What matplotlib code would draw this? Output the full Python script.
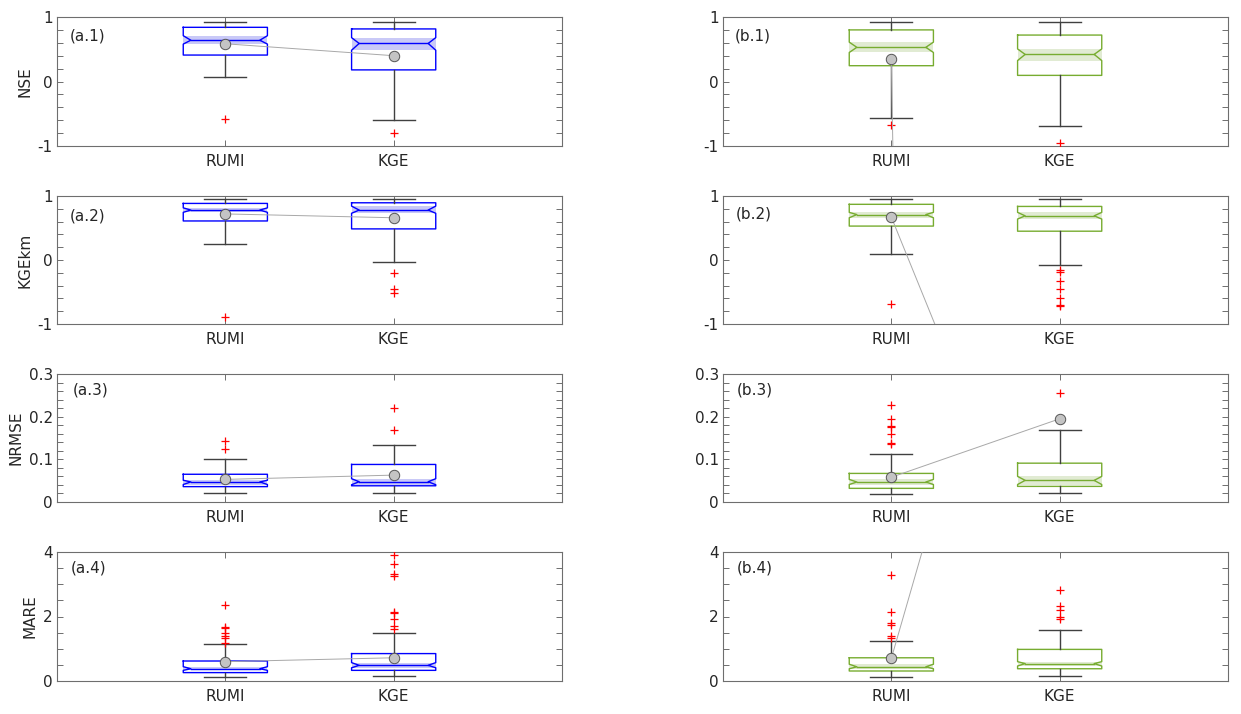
import numpy as np
import matplotlib
matplotlib.use('Agg')
import matplotlib.pyplot as plt
from matplotlib.ticker import MultipleLocator

methods = ['RUMI', 'KGE']
metrics = ['NSE', 'KGEkm', 'NRMSE', 'MARE']
labels_a = ['(a.1)', '(a.2)', '(a.3)', '(a.4)']
labels_b = ['(b.1)', '(b.2)', '(b.3)', '(b.4)']

# column a  [metric][method]
a_q1 = [[0.41, 0.18], [0.61, 0.486], [0.036, 0.038], [0.26, 0.33]]
a_q3 = [[0.84, 0.815], [0.884, 0.894], [0.065, 0.088], [0.62, 0.85]]
a_med = [[0.64, 0.59], [0.78, 0.78], [0.047, 0.0475], [0.38, 0.486]]
a_nlo = [[0.58, 0.485], [0.745, 0.73], [0.041, 0.0405], [0.33, 0.41]]
a_nhi = [[0.71, 0.68], [0.815, 0.842], [0.051, 0.0546], [0.444, 0.57]]
a_wlo = [[0.07, -0.60], [0.253, -0.03], [0.022, 0.022], [0.134, 0.155]]
a_whi = [[0.93, 0.92], [0.946, 0.946], [0.101, 0.133], [1.15, 1.49]]
a_mean = [[0.585, 0.40], [0.72, 0.66], [0.053, 0.063], [0.60, 0.72]]
a_fliers = [
    [[-0.585], [-0.80]],
    [[-0.89], [-0.207, -0.46, -0.51]],
    [[0.143, 0.125], [0.22, 0.169]],
    [[2.37, 1.68, 1.64, 1.48, 1.40, 1.33, 1.19],
     [3.91, 3.62, 3.31, 3.26, 2.15, 2.10, 1.91, 1.71, 1.62]],
]

# column b
b_q1 = [[0.245, 0.095], [0.53, 0.45], [0.032, 0.0366], [0.31, 0.38]]
b_q3 = [[0.80, 0.72], [0.87, 0.837], [0.067, 0.091], [0.72, 0.98]]
b_med = [[0.53, 0.42], [0.71, 0.69], [0.0468, 0.0507], [0.44, 0.54]]
b_nlo = [[0.45, 0.325], [0.66, 0.64], [0.041, 0.041], [0.38, 0.465]]
b_nhi = [[0.61, 0.505], [0.744, 0.744], [0.053, 0.060], [0.52, 0.60]]
b_wlo = [[-0.56, -0.695], [0.088, -0.078], [0.0195, 0.021], [0.134, 0.165]]
b_whi = [[0.93, 0.925], [0.946, 0.95], [0.112, 0.1676], [1.25, 1.59]]
b_mean = [[0.35, -150.0], [0.67, -5.8], [0.058, 0.195], [0.70, 18.8]]
b_fliers = [
    [[-0.68], [-0.95]],
    [[-0.69], [-0.15, -0.18, -0.33, -0.45, -0.60, -0.70, -0.72]],
    [[0.227, 0.195, 0.178, 0.175, 0.159, 0.138, 0.135], [0.2557]],
    [[3.28, 2.15, 1.79, 1.73, 1.40, 1.34], [2.82, 2.33, 2.20, 1.98, 1.91]],
]

ylims = [(-1, 1), (-1, 1), (0, 0.3), (0, 4)]
yminor = [0.2, 0.2, 0.02, 0.5]
ytick_fmt = [['-1', '0', '1'], ['-1', '0', '1'], ['0', '0.1', '0.2', '0.3'], ['0', '2', '4']]

plt.rcParams['font.family'] = 'DejaVu Sans'
plt.rcParams['font.size'] = 11

fig = plt.figure(figsize=(12.41, 7.14), dpi=100)
W, H = 1241, 714
col_x = [57, 723]
row_top = [17, 196, 374, 552]
row_bot = [146, 324, 502, 681]
lab_pos_a = [(0.026, 0.853), (0.026, 0.84), (0.032, 0.875), (0.028, 0.876)]
lab_pos_b = [(0.024, 0.853), (0.026, 0.86), (0.028, 0.875), (0.028, 0.876)]

spine_col = '#6e6e6e'
whisk_col = '#404040'


def draw_box(ax, x, q1, med, q3, nlo, nhi, wlo, whi, color, fill):
    hw = 0.25
    nw = 0.205
    cw = 0.125
    ax.fill_between([x - hw, x + hw], nlo, nhi, color=fill, lw=0, zorder=1)
    xs = [x - hw, x + hw, x + hw, x + nw, x + hw, x + hw, x - hw, x - hw, x - nw, x - hw, x - hw]
    ys = [q3, q3, nhi, med, nlo, q1, q1, nlo, med, nhi, q3]
    ax.plot(xs, ys, color=color, lw=1.0, zorder=2)
    ax.plot([x - nw, x + nw], [med, med], color=color, lw=1.0, zorder=2)
    ax.plot([x, x], [q3, whi], color=whisk_col, lw=1.0, zorder=2)
    ax.plot([x, x], [q1, wlo], color=whisk_col, lw=1.0, zorder=2)
    ax.plot([x - cw, x + cw], [whi, whi], color=whisk_col, lw=1.0, zorder=2)
    ax.plot([x - cw, x + cw], [wlo, wlo], color=whisk_col, lw=1.0, zorder=2)


cols = [
    (a_q1, a_med, a_q3, a_nlo, a_nhi, a_wlo, a_whi, a_mean, a_fliers, '#0000ff', '#c9c9f7', labels_a, lab_pos_a),
    (b_q1, b_med, b_q3, b_nlo, b_nhi, b_wlo, b_whi, b_mean, b_fliers, '#77ac30', '#e1ebd3', labels_b, lab_pos_b),
]

positions = np.arange(1, len(methods) + 1)

for c, (q1, med, q3, nlo, nhi, wlo, whi, mean, fliers, color, fill, plabels, ppos) in enumerate(cols):
    for r in range(4):
        ax = fig.add_axes([col_x[c] / W, 1 - row_bot[r] / H, 505 / W, (row_bot[r] - row_top[r]) / H])
        for k, x in enumerate(positions):
            draw_box(ax, x, q1[r][k], med[r][k], q3[r][k], nlo[r][k], nhi[r][k],
                     wlo[r][k], whi[r][k], color, fill)
            ax.plot([x] * len(fliers[r][k]), fliers[r][k], '+', color='#ff0000',
                    ms=6, mew=0.9, zorder=3)
        ax.plot(positions, mean[r], color='#a8a8a8', lw=0.7, zorder=4)
        ax.plot(positions, mean[r], 'o', mfc='#c4c4c4', mec='#555555', mew=0.7, ms=7.5, zorder=5)

        ax.set_xlim(0, 3)
        ax.set_ylim(*ylims[r])
        ax.set_xticks(positions)
        ax.set_xticklabels(methods)
        lo, hi = ylims[r]
        ax.set_yticks(np.linspace(lo, hi, len(ytick_fmt[r])))
        ax.set_yticklabels(ytick_fmt[r])
        ax.yaxis.set_minor_locator(MultipleLocator(yminor[r]))
        ax.tick_params(which='both', direction='in', top=True, right=True,
                       length=4, width=0.7, color=spine_col, labelcolor='#262626')
        ax.tick_params(axis='x', pad=6)
        ax.tick_params(axis='y', pad=3)
        for s in ax.spines.values():
            s.set_color(spine_col)
            s.set_linewidth(0.8)
        if c == 0:
            ax.set_ylabel(metrics[r], color='#262626', labelpad=4)
        ax.text(ppos[r][0], ppos[r][1], plabels[r], transform=ax.transAxes,
                ha='left', va='center', color='#262626')

fig.savefig('out.png', dpi=100)
